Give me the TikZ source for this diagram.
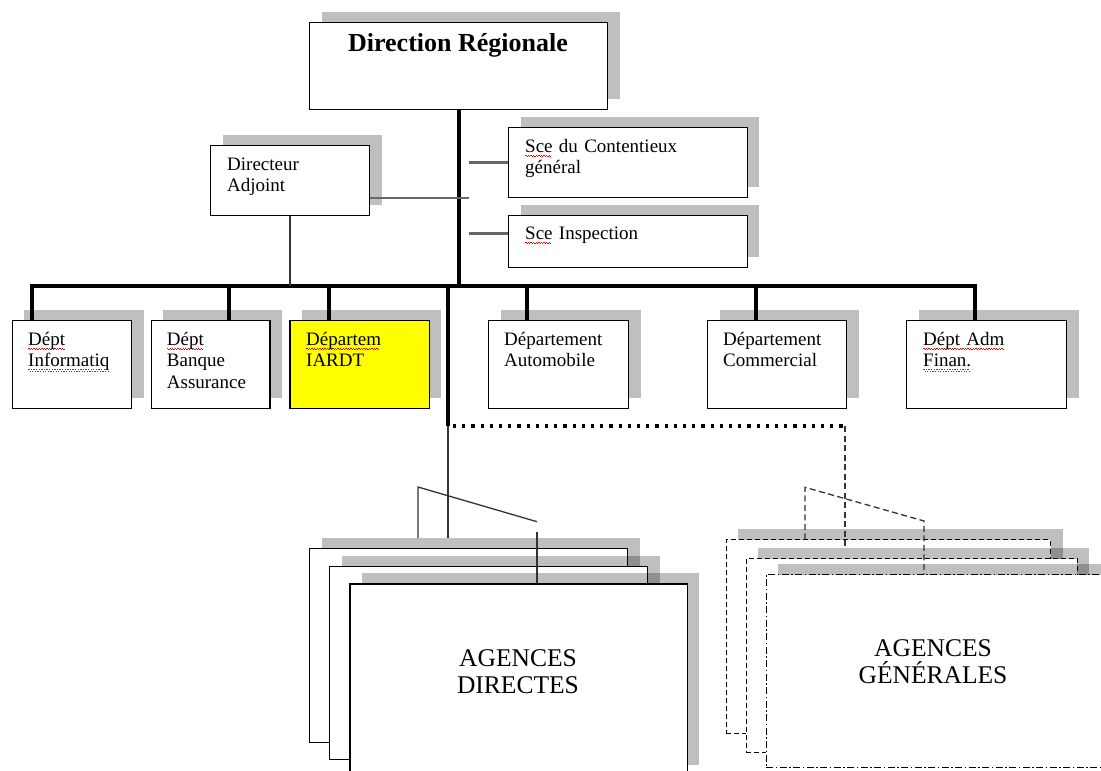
\documentclass[tikz,border=0pt]{standalone}
\usepackage{fontspec}
\setmainfont{Liberation Serif}
\usetikzlibrary{shadows}
\newsavebox\wavebox
\newcommand\redwave[1]{\leavevmode\sbox\wavebox{#1}\rlap{\textcolor{red}{\leaders\hbox{\rule[-3.4pt]{1.3pt}{0.8pt}\rule[-4.8pt]{1.3pt}{0.8pt}}\hskip\wd\wavebox}}\usebox\wavebox}
\definecolor{linkgray}{HTML}{666666}
\definecolor{darkline}{HTML}{333333}
\definecolor{iardt}{HTML}{FFFF00}
\begin{document}
\begin{tikzpicture}[x=1pt,y=-1pt,
  shade/.style={drop shadow={shadow xshift=12pt, shadow yshift=11pt, fill=black, opacity=0.25}},
  box/.style={draw=black, line width=1.3pt, fill=white, anchor=north west, inner sep=0pt, shade},
  dbox/.style={box, line width=1.1pt, dash pattern=on 5pt off 3pt},
  ddbox/.style={box, line width=1.1pt, dash pattern=on 7pt off 2.5pt on 1.5pt off 2.5pt},
  txt/.style={anchor=base west, inner sep=0pt, text width=220pt, align=left, font=\fontsize{19}{21.5}\selectfont},
  agtxt/.style={anchor=base, inner sep=0pt, text width=320pt, align=center, font=\fontsize{25.5}{26.3}\selectfont},
  busline/.style={line width=4pt, black},
  link/.style={line width=2.4pt, linkgray},
  thinl/.style={line width=1.3pt, darkline},
  dashl/.style={line width=1.3pt, darkline, dash pattern=on 6pt off 3.5pt},
  dotl/.style={line width=3.2pt, black, dash pattern=on 3.2pt off 6pt}
]
\useasboundingbox (0,0) rectangle (1101,771);
\clip (0,0) rectangle (1101,771);

% top
\node[box, minimum width=298pt, minimum height=87pt] (dr) at (309,22) {};
\node[anchor=base, inner sep=0pt, font=\fontsize{26}{28}\selectfont\bfseries] (drt) at (458,51.7) {Direction Régionale};

\node[box, minimum width=159pt, minimum height=70pt] (da) at (210,145) {};
\node[txt] (dat) at (227,170) {Directeur\\Adjoint};

\node[box, minimum width=238.5pt, minimum height=70pt] (sc) at (508,127) {};
\node[txt] (sct) at (525,152) {\redwave{Sce} du Contentieux\\général};
\node[box, minimum width=238.5pt, minimum height=52pt] (si) at (508,215) {};
\node[txt] (sit) at (525,239) {\redwave{Sce} Inspection};

% departments
\node[box, minimum width=119.3pt, minimum height=88pt] (d1) at (11.7,320) {};
\node[txt] (d1t) at (28,345) {\redwave{Dépt}\\\redwave{Informatiq}};
\node[box, minimum width=118.6pt, minimum height=88pt] (d2) at (150.7,320) {};
\node[txt] (d2t) at (166.7,345) {\redwave{Dépt}\\Banque\\Assurance};
\node[box, fill=iardt, minimum width=139.4pt, minimum height=88pt] (d3) at (289.3,320) {};
\node[txt] (d3t) at (306,345) {\redwave{Départem}\\IARDT};
\node[box, minimum width=140pt, minimum height=88pt] (d4) at (488,320) {};
\node[txt] (d4t) at (504,345) {Département\\Automobile};
\node[box, minimum width=139pt, minimum height=88pt] (d5) at (707,320) {};
\node[txt] (d5t) at (723,345) {Département\\Commercial};
\node[box, minimum width=160pt, minimum height=88pt] (d6) at (906,320) {};
\node[txt] (d6t) at (923,345) {\redwave{Dépt Adm}\\\redwave{Finan.}};

% agencies directes
\node[box, minimum width=318pt, minimum height=194pt] (ad1) at (309,548) {};
\node[box, minimum width=318pt, minimum height=193pt] (ad2) at (329,566) {};
\node[box, minimum width=337.4pt, minimum height=192pt] (ad3) at (349.3,583.3) {};
\node[agtxt] (adt) at (518,666.7) {AGENCES\\DIRECTES};

% agences generales
\node[dbox, minimum width=324.3pt, minimum height=193.4pt] (ag1) at (725.7,539.3) {};
\node[dbox, minimum width=331pt, minimum height=193.4pt] (ag2) at (745.7,558.3) {};
\node[ddbox, minimum width=340pt, minimum height=193pt] (ag3) at (765.7,574.3) {};
\node[agtxt] (agt) at (933,656.7) {AGENCES\\GÉNÉRALES};

% coordinates
\coordinate (bL) at (32,286);
\coordinate (bR) at (975,286);
\coordinate (j2) at (229,286);
\coordinate (j3) at (329,286);
\coordinate (j4) at (527,286);
\coordinate (j5) at (756,286);
\coordinate (jb) at (448,286);
\coordinate (jd) at (448,426);
\coordinate (jf) at (448,538);
\coordinate (dax) at (290,286);
\coordinate (sx) at (468.5,198);
\coordinate (s1) at (468.5,162.5);
\coordinate (s2) at (468.5,233.5);
\coordinate (dR) at (845,426);
\coordinate (dB) at (845,548);
\coordinate (fL) at (418,538);
\coordinate (fT) at (418,487);
\coordinate (fE) at (537,521.7);
\coordinate (fS) at (537,531.7);
\coordinate (gT) at (805,487.3);
\coordinate (gE) at (924,521);

% connectors
\draw[busline] (dr.south) -- (dr.south |- bL);
\draw[busline, line cap=rect] (bL) -- (bR);
\draw[busline] (bL) -- (bL |- d1.north);
\draw[busline] (j2) -- (j2 |- d2.north);
\draw[busline] (j3) -- (j3 |- d3.north);
\draw[busline] (j4) -- (j4 |- d4.north);
\draw[busline] (j5) -- (j5 |- d5.north);
\draw[busline] (bR) -- (bR |- d6.north);
\draw[link] (da.east |- sx) -- (sx);
\draw[thinl] (dax |- da.south) -- (dax);
\draw[link] (s1) -- (s1 -| sc.west);
\draw[link] (s2) -- (s2 -| si.west);

\draw[busline] (jb) -- (jd);
\draw[thinl] (jd) -- (jf);
\draw[dotl] ([xshift=5pt]jd) -- (dR);
\draw[dashl] (dR) -- (dB);
\draw[thinl] (fL) -- (fT) -- (fE);
\draw[thinl] (fS) -- (fS |- ad3.north);
\draw[dashl] (gT |- ag1.north) -- (gT) -- (gE) -- (gE |- ag3.north);
\end{tikzpicture}
\end{document}
